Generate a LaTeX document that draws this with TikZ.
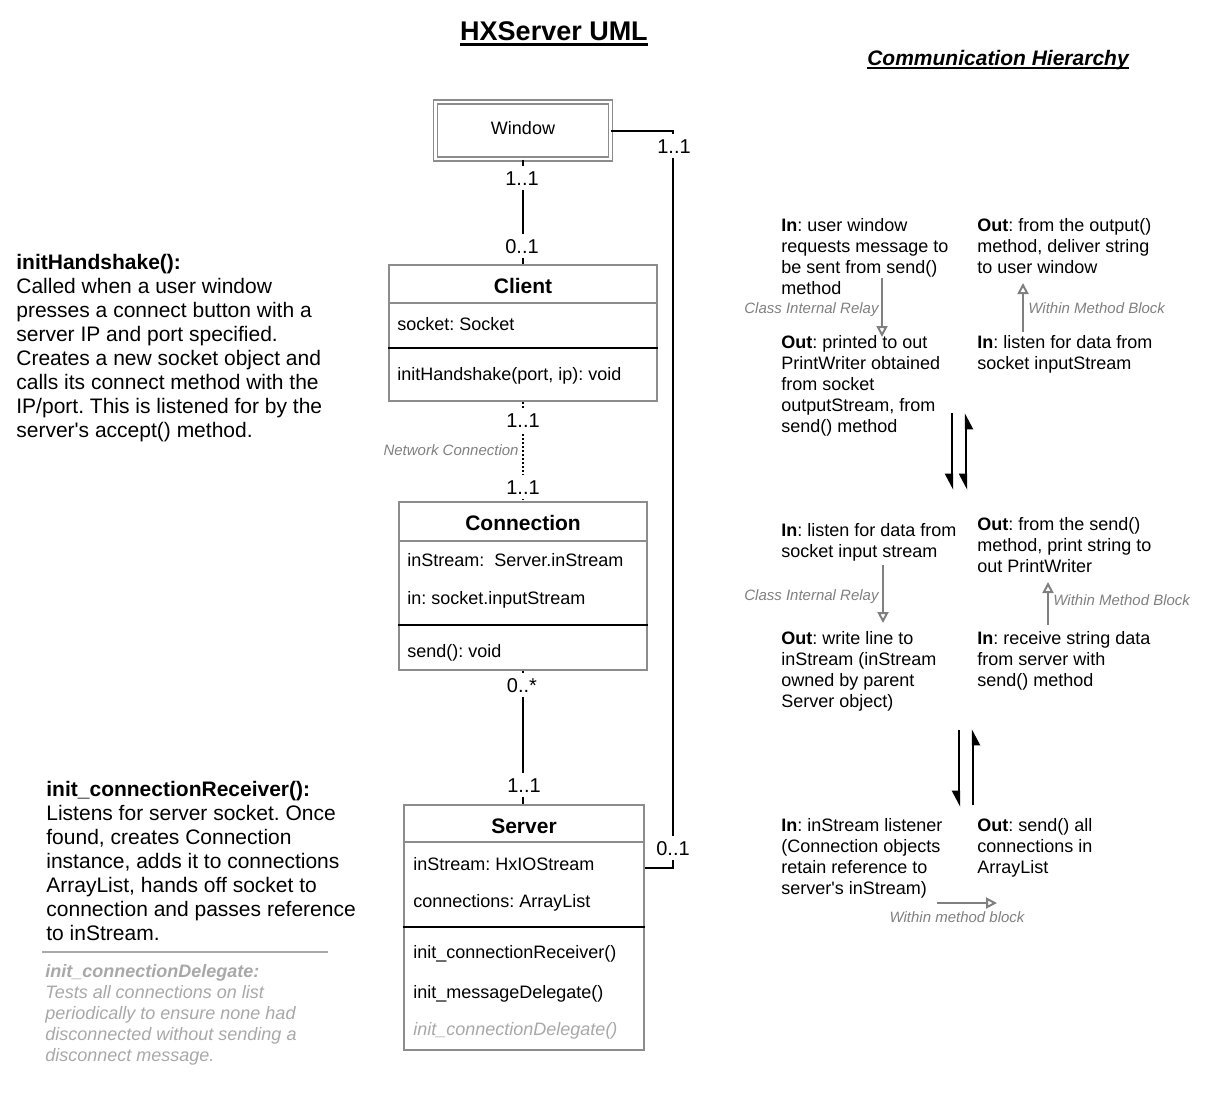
\documentclass[tikz,border=0pt]{standalone}
\usepackage{fontspec}
\setmainfont{Liberation Sans}
\usetikzlibrary{arrows.meta}

\definecolor{boxgray}{gray}{0.55}
\definecolor{notegray}{gray}{0.5}
\definecolor{palegray}{gray}{0.66}

\tikzset{
  umlbox/.style={draw=boxgray, line width=1pt, rectangle, inner sep=0pt},
  winbox/.style={draw=boxgray, double=white, double distance=1.3pt, line width=0.7pt, rectangle, inner sep=0pt,
    minimum width=87.5pt, minimum height=28.5pt, text height=6.5pt, text depth=3pt, font=\fontsize{9}{11}\selectfont},
  classname/.style={anchor=base, inner sep=0pt, font=\fontsize{10.5}{12}\selectfont\bfseries},
  member/.style={anchor=base west, inner sep=0pt, font=\fontsize{9}{11}\selectfont},
  titlesep/.style={draw=boxgray, line width=1pt},
  opsep/.style={draw=black, line width=1pt},
  assoc/.style={line width=1pt},
  netlink/.style={line width=1pt, dash pattern=on 1pt off 1pt},
  mult/.style={anchor=base, fill=white, inner sep=2.5pt, font=\fontsize{10}{12}\selectfont},
  remark/.style={anchor=base, inner sep=0pt, text=notegray, font=\fontsize{7.5}{9}\selectfont\itshape},
  desc/.style={anchor=north west, inner sep=0pt, align=left, font=\fontsize{10.5}{12}\selectfont},
  flow/.style={anchor=north west, inner sep=0pt, align=left, font=\fontsize{9}{10.5}\selectfont},
  relay/.style={draw=notegray, line width=1pt, -{Triangle[open, length=5.5pt, width=5.5pt]}},
  pass/.style={line width=1.2pt, -{Triangle[length=7pt, width=7pt, right]}},
}

\begin{document}
\frenchspacing
\begin{tikzpicture}[x=0.5pt, y=-0.5pt]
\useasboundingbox (0,0) rectangle (1208,1092);

% titles
\node[anchor=base, inner sep=0pt, font=\fontsize{13.5}{16}\selectfont\bfseries] (title) at (554,40) {HXServer UML};
\draw[line width=1.1pt] ([yshift=-2.2pt]title.base west) -- ([yshift=-2.2pt]title.base east);
\node[anchor=base, inner sep=0pt, font=\fontsize{10.5}{12}\selectfont\bfseries\itshape] (hier) at (998,65) {Communication Hierarchy};
\draw[line width=1pt] ([yshift=-1.7pt]hier.base west) -- ([yshift=-1.7pt]hier.base east);

% classes
\node[winbox] (window) at (523,130.5) {Window};

\node[umlbox, minimum width=134pt, minimum height=68pt] (client) at (523,333) {};
\node[classname] (clientname) at (523,293) {Client};
\node[member] (clientsock) at (397,330) {socket: Socket};
\node[member] (clientshake) at (397,380) {initHandshake(port, ip): void};
\draw[titlesep] ([yshift=-19.5pt]client.north west) -- ([yshift=-19.5pt]client.north east);
\draw[opsep] ([yshift=-42pt]client.north west) -- ([yshift=-42pt]client.north east);

\node[umlbox, minimum width=124pt, minimum height=84pt] (conn) at (523,586) {};
\node[classname] (connname) at (523,530) {Connection};
\node[member] (connstream) at (407,566) {inStream:\ \ Server.inStream};
\node[member] (connin) at (407,604) {in: socket.inputStream};
\node[member] (connsend) at (407,657) {send(): void};
\draw[titlesep] ([yshift=-20pt]conn.north west) -- ([yshift=-20pt]conn.north east);
\draw[opsep] ([yshift=-62pt]conn.north west) -- ([yshift=-62pt]conn.north east);

\node[umlbox, minimum width=120pt, minimum height=122.5pt] (server) at (524,927.5) {};
\node[classname] (servername) at (524,833) {Server};
\node[member] (srvstream) at (413,870) {inStream: HxIOStream};
\node[member] (srvlist) at (413,907) {connections: ArrayList};
\node[member] (srvrecv) at (413,958) {init\_connectionReceiver()};
\node[member] (srvmsg) at (413,998) {init\_messageDelegate()};
\node[member, text=palegray, font=\fontsize{9}{11}\selectfont\itshape] (srvdeleg) at (413,1035) {init\_connectionDelegate()};
\draw[titlesep] ([yshift=-19pt]server.north west) -- ([yshift=-19pt]server.north east);
\draw[opsep] ([yshift=-61.5pt]server.north west) -- ([yshift=-61.5pt]server.north east);

% associations
\coordinate (winturn) at (673,868);
\coordinate (srvlink) at (server.east |- winturn);
\draw[assoc] (window.south) -- (client.north);
\draw[netlink] (client.south) -- (conn.north);
\draw[assoc] (conn.south) -- (conn.south |- server.north);
\draw[assoc] (window.east) -| (winturn) -- (srvlink);

\node[mult] (m1) at (522,185) {1..1};
\node[mult] (m2) at (522,253) {0..1};
\node[mult] (m3) at (523,427) {1..1};
\node[mult] (m4) at (523,494) {1..1};
\node[mult] (m5) at (522,692) {0..*};
\node[mult] (m6) at (524,792) {1..1};
\node[mult] (m7) at (674,153) {1..1};
\node[mult] (m8) at (673,855) {0..1};
\node[remark, anchor=base east] (netnote) at (519,455) {Network Connection};

% notes on the left
\node[desc] (handshake) at (16,253.5) {\textbf{initHandshake():}\\Called when a user window\\presses a connect button with a\\server IP and port specified.\\Creates a new socket object and\\calls its connect method with the\\IP/port. This is listened for by the\\server\textquotesingle s accept() method.};
\node[desc] (receiver) at (46,780.5) {\textbf{init\_connectionReceiver():}\\Listens for server socket. Once\\found, creates Connection\\instance, adds it to connections\\ArrayList, hands off socket to\\connection and passes reference\\to inStream.};
\draw[palegray, line width=1pt] (42,952) -- (328,952);
\node[flow, text=palegray, font=\fontsize{9}{10.5}\selectfont\itshape] (delegate) at (45,964) {\textbf{init\_connectionDelegate:}\\Tests all connections on list\\periodically to ensure none had\\disconnected without sending a\\disconnect message.};

% communication hierarchy
\node[flow] (clientin) at (781,218) {\textbf{In}: user window\\requests message to\\be sent from send()\\method};
\node[flow] (clientout) at (781,335.5) {\textbf{Out}: printed to out\\PrintWriter obtained\\from socket\\outputStream, from\\send() method};
\node[flow] (clientret) at (977,218) {\textbf{Out}: from the output()\\method, deliver string\\to user window};
\node[flow] (clientlisten) at (977,335.5) {\textbf{In}: listen for data from\\socket inputStream};

\node[flow] (connlisten) at (781,523.5) {\textbf{In}: listen for data from\\socket input stream};
\node[flow] (connwrite) at (781,631.5) {\textbf{Out}: write line to\\inStream (inStream\\owned by parent\\Server object)};
\node[flow] (connprint) at (977,517.5) {\textbf{Out}: from the send()\\method, print string to\\out PrintWriter};
\node[flow] (connrecv) at (977,631.5) {\textbf{In}: receive string data\\from server with\\send() method};

\node[flow] (srvlisten) at (781,818.5) {\textbf{In}: inStream listener\\(Connection objects\\retain reference to\\server\textquotesingle s inStream)};
\node[flow] (srvsend) at (977,818.5) {\textbf{Out}: send() all\\connections in\\ArrayList};

% relays
\coordinate (r1a) at (882,278);  \coordinate (r1b) at (882,337);
\coordinate (r2a) at (1023,332); \coordinate (r2b) at (1023,283);
\coordinate (r3a) at (883,565);  \coordinate (r3b) at (883,623);
\coordinate (r4a) at (1048,625); \coordinate (r4b) at (1048,582);
\coordinate (r5a) at (937,903);  \coordinate (r5b) at (997,903);
\draw[relay] (r1a) -- (r1b);
\draw[relay] (r2a) -- (r2b);
\draw[relay] (r3a) -- (r3b);
\draw[relay] (r4a) -- (r4b);
\draw[relay] (r5a) -- (r5b);
\node[remark, anchor=base east] (relay1) at (879,313) {Class Internal Relay};
\node[remark, anchor=base west] (block1) at (1028,313) {Within Method Block};
\node[remark, anchor=base east] (relay2) at (879,600) {Class Internal Relay};
\node[remark, anchor=base west] (block2) at (1053,605) {Within Method Block};
\node[remark] (block3) at (957,922) {Within method block};

% passes between layers
\coordinate (p1a) at (952,413); \coordinate (p1b) at (952,490);
\coordinate (p2a) at (966,413); \coordinate (p2b) at (966,490);
\coordinate (p3a) at (959,730); \coordinate (p3b) at (959,807);
\coordinate (p4a) at (973,805); \coordinate (p4b) at (973,729);
\draw[pass] (p1a) -- (p1b);
\draw[pass, {Triangle[length=7pt, width=7pt, right]}-{Triangle[length=7pt, width=7pt, right]}] (p2a) -- (p2b);
\draw[pass] (p3a) -- (p3b);
\draw[pass] (p4a) -- (p4b);
\end{tikzpicture}
\end{document}
